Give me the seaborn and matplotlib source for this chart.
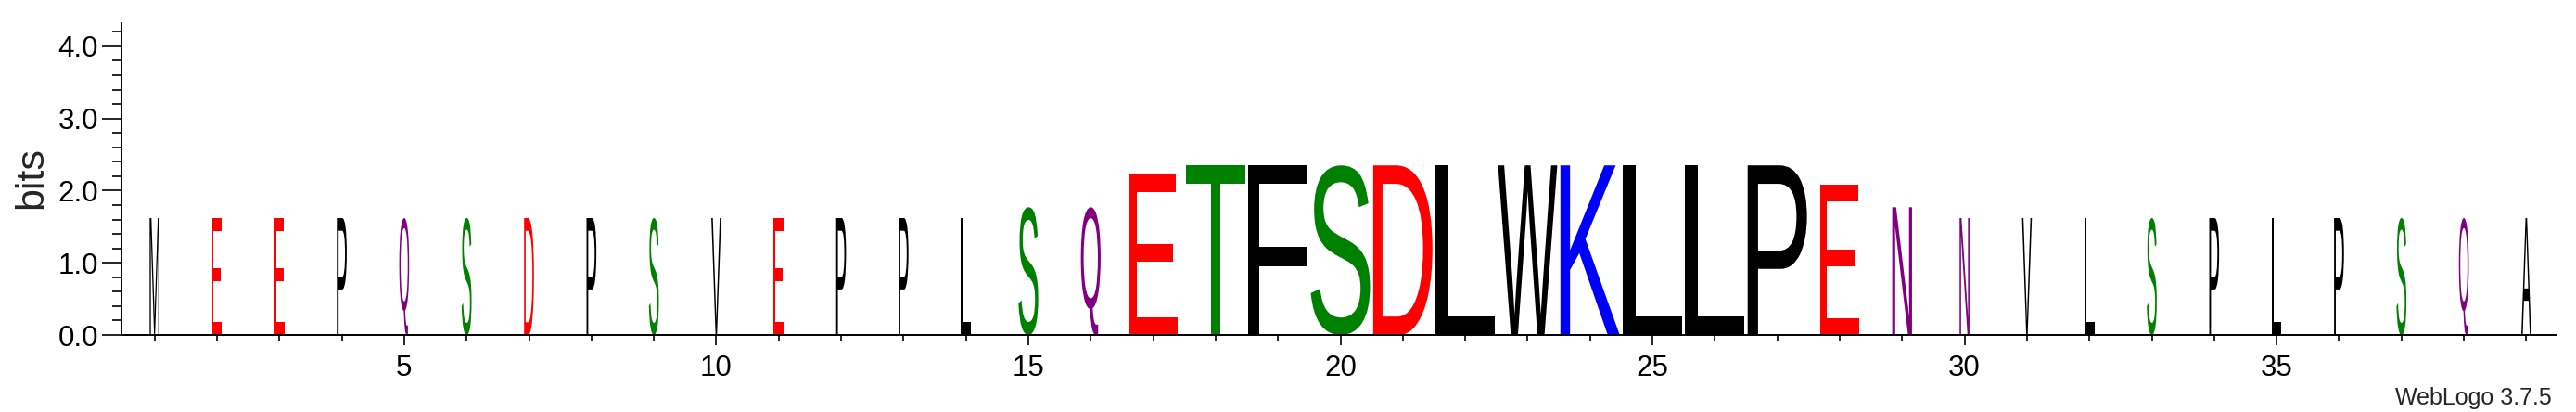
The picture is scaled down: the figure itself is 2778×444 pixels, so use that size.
import matplotlib
matplotlib.use('Agg')
import matplotlib.pyplot as plt
import seaborn as sns
from matplotlib.textpath import TextPath
from matplotlib.patches import PathPatch
from matplotlib.font_manager import FontProperties
from matplotlib.transforms import Affine2D
from matplotlib.ticker import MultipleLocator, FixedLocator

# sequence logo data: one residue per column
positions = list(range(1, 40))
residues = list('MEEPQSDPSVEPPLSQETFSDLWKLLPENNVLSPLPSQA')
bits = ([1.62] * 14 + [1.77, 1.77, 2.22] + [2.35] * 10
        + [2.08, 1.77] + [1.62] * 10)
# number of aligned (non-gap) sequences per column, out of 6
n_seqs = [1] * 14 + [2, 2, 5] + [6] * 10 + [4, 2] + [1] * 10
n_total = 6
x_ticks = [5, 10, 15, 20, 25, 30, 35]

# weblogo "chemistry" colour scheme
colors = {}
for aa in 'GSTYC':
    colors[aa] = '#008000'
for aa in 'QN':
    colors[aa] = '#800080'
for aa in 'KRH':
    colors[aa] = '#0000ff'
for aa in 'DE':
    colors[aa] = '#ff0000'
for aa in 'AVLIPWFM':
    colors[aa] = '#000000'

sns.set_theme(style='ticks')
plt.rcParams['font.family'] = ['Liberation Sans', 'DejaVu Sans']

glyph_font = FontProperties(family='Liberation Sans')


def draw_letter(ax, ch, x, width, height, color):
    """stretch the glyph outline so it fills the box [x-w/2, x+w/2] x [0, h]"""
    tp = TextPath((0, 0), ch, size=1, prop=glyph_font)
    bb = tp.get_extents()
    tr = (Affine2D()
          .translate(-bb.x0, -bb.y0)
          .scale(width / bb.width, height / bb.height)
          .translate(x - width / 2, 0))
    ax.add_patch(PathPatch(tr.transform_path(tp), facecolor=color,
                           edgecolor='none', lw=0))


fig = plt.figure(figsize=(27.78, 4.44), dpi=100)
ax = fig.add_axes([131 / 2778, 1 - 361 / 444, 2625 / 2778, 336 / 444])

full_w = 0.95
for pos, aa, h, n in zip(positions, residues, bits, n_seqs):
    draw_letter(ax, aa, pos, full_w * n / n_total, h, colors[aa])

ax.set_xlim(0.47, 39.47)
ax.set_ylim(0, 4.32)

sns.despine(ax=ax)
for side in ['left', 'bottom']:
    ax.spines[side].set_linewidth(1.4)
    ax.spines[side].set_color('black')

ax.yaxis.set_major_locator(MultipleLocator(1.0))
ax.yaxis.set_minor_locator(MultipleLocator(0.2))
ax.set_yticks([0, 1, 2, 3, 4])
ax.set_yticklabels(['0.0', '1.0', '2.0', '3.0', '4.0'])
ax.tick_params(axis='y', which='major', direction='out', length=15, width=1.2,
               pad=3, labelsize=22.5, color='black', labelcolor='black')
ax.tick_params(axis='y', which='minor', direction='out', length=7.2, width=1.2,
               color='black', left=True)

ax.xaxis.set_major_locator(FixedLocator(x_ticks))
ax.xaxis.set_minor_locator(FixedLocator(positions))
ax.set_xticklabels([str(t) for t in x_ticks])
ax.tick_params(axis='x', which='major', direction='out', length=8, width=1.2,
               pad=7, labelsize=22.5, color='black', labelcolor='black')
ax.tick_params(axis='x', which='minor', direction='out', length=4.3, width=1.2,
               color='black', bottom=True)

fig.text(34 / 2778, 1 - 192 / 444, 'bits', rotation=90, ha='center',
         va='center', fontsize=31)
fig.text(2752 / 2778, 1 - 436 / 444, 'WebLogo 3.7.5', ha='right',
         va='baseline', fontsize=18)

fig.savefig('out.png', dpi=100, facecolor='white')
